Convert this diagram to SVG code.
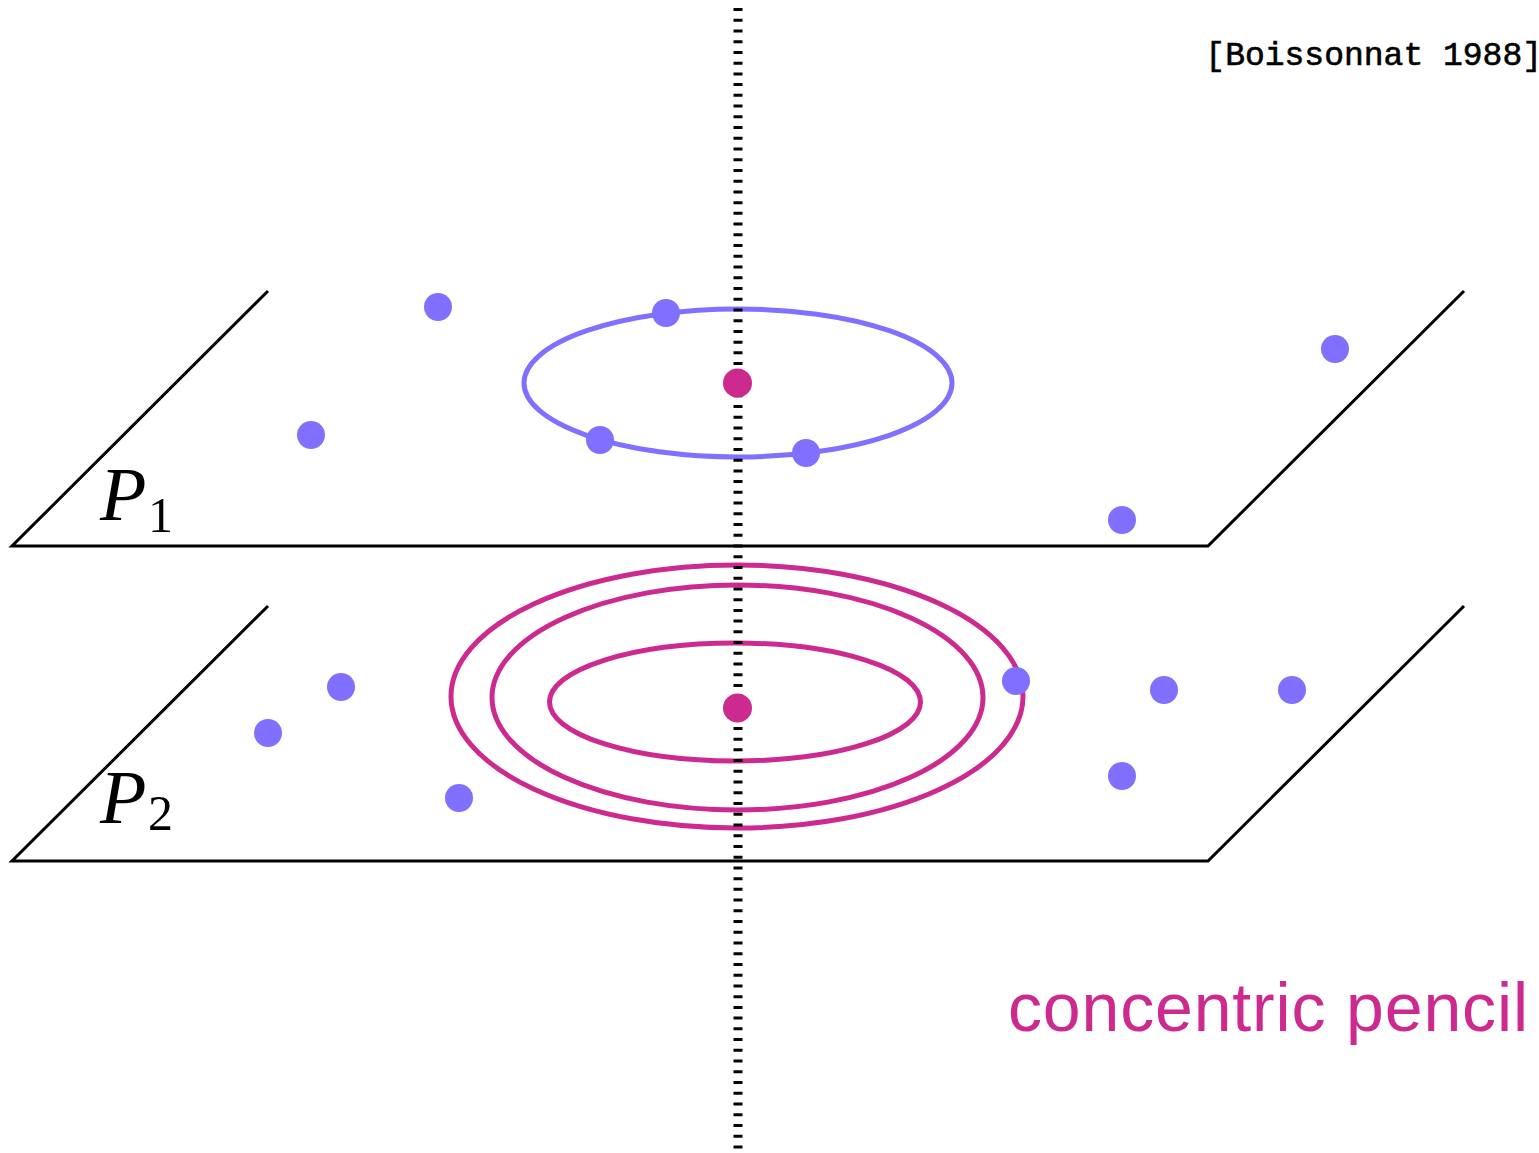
<svg xmlns="http://www.w3.org/2000/svg" width="1539" height="1153" viewBox="0 0 1539 1153">
<style>
.plane{fill:none;stroke:#000;stroke-width:3}
.bd{fill:#8070FF}
.md{fill:#CC2A8F}
.bell{fill:none;stroke:#8070FF;stroke-width:5}
.mell{fill:none;stroke:#CC2A8F;stroke-width:5}
.lab{font-family:"Liberation Serif",serif;font-style:italic;font-size:76px}
.sub{font-family:"Liberation Serif",serif;font-size:50px}
</style>
<rect width="1539" height="1153" fill="#fff"/>
<g id="plane1">
<path class="plane" d="M268,291 L12,546 L1208,546 L1464,291"/>
<text class="lab" x="100" y="520">P</text><text class="sub" x="148" y="532">1</text>
</g>
<g id="plane2">
<path class="plane" d="M268,606 L12,861 L1208,861 L1464,606"/>
<text class="lab" x="100" y="823">P</text><text class="sub" x="148" y="830">2</text>
</g>
<g id="circle1">
<ellipse class="bell" cx="738" cy="383" rx="214" ry="74"/>
</g>
<g id="pencil">
<ellipse class="mell" cx="737" cy="696.5" rx="286" ry="131.5"/>
<ellipse class="mell" cx="737.5" cy="697.5" rx="245.5" ry="112.5"/>
<ellipse class="mell" cx="735" cy="702" rx="185.5" ry="59"/>
</g>
<g id="axis">
<line x1="738" y1="8" x2="738" y2="1153" stroke="#000" stroke-width="9" stroke-dasharray="3 7.73"/>
</g>
<g id="points1">
<circle class="md" cx="737.5" cy="383" r="14.5"/>
<circle class="bd" cx="438" cy="307" r="14"/>
<circle class="bd" cx="666" cy="313" r="14"/>
<circle class="bd" cx="311" cy="435" r="14"/>
<circle class="bd" cx="600" cy="440" r="14"/>
<circle class="bd" cx="806" cy="453" r="14"/>
<circle class="bd" cx="1335" cy="349" r="14"/>
<circle class="bd" cx="1122" cy="520" r="14"/>
</g>
<g id="points2">
<circle class="md" cx="737.5" cy="708" r="14.5"/>
<circle class="bd" cx="341" cy="687" r="14"/>
<circle class="bd" cx="268" cy="733" r="14"/>
<circle class="bd" cx="459" cy="798" r="14"/>
<circle class="bd" cx="1016" cy="681" r="14"/>
<circle class="bd" cx="1164" cy="690" r="14"/>
<circle class="bd" cx="1292" cy="690" r="14"/>
<circle class="bd" cx="1122" cy="776" r="14"/>
</g>
<g id="labels">
<text x="1542" y="65" text-anchor="end" font-family="Liberation Mono, monospace" font-size="33" stroke="#000" stroke-width="0.6">[Boissonnat 1988]</text>
<text x="1008" y="1031" font-family="Liberation Sans, sans-serif" font-size="68" fill="#CC2A8F" textLength="520">concentric pencil</text>
</g>
</svg>
